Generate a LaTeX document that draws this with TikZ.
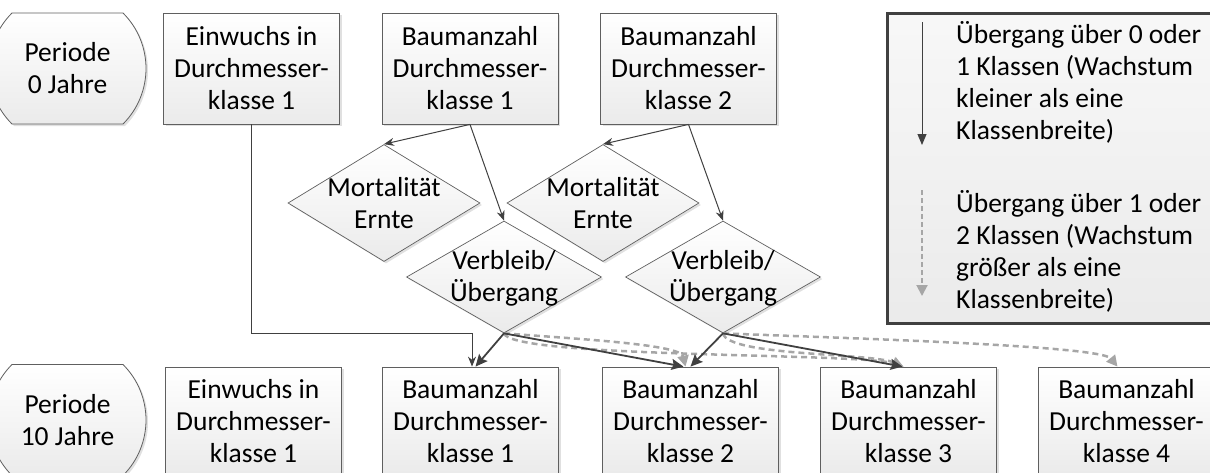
\documentclass[tikz,border=0pt]{standalone}
\usepackage{fontspec}
\setmainfont{Carlito}
\usetikzlibrary{shapes.geometric,shapes.misc,arrows.meta,shadows,calc}
\definecolor{lineC}{HTML}{404040}
\definecolor{boxC}{HTML}{5F5F5F}
\definecolor{dashC}{HTML}{A6A6A6}
\begin{document}
\begin{tikzpicture}[x=1pt,y=-1pt,font=\fontsize{27.5}{32}\selectfont,
  shadowed/.style={drop shadow={shadow xshift=2pt,shadow yshift=-2pt,fill=black,opacity=0.12}},
  box/.style={rectangle,draw=boxC,line width=0.8pt,top color=white,bottom color=gray!16,
    minimum width=176pt,minimum height=111pt,align=center,inner sep=0pt,shadowed},
  lowbox/.style={box,minimum height=108pt},
  per/.style={rounded rectangle,rounded rectangle arc length=90,draw=boxC,line width=0.8pt,
    top color=white,bottom color=gray!16,minimum width=109pt,minimum height=111pt,
    align=center,inner sep=0pt,shadowed},
  dia/.style={diamond,draw=boxC,line width=0.7pt,top color=white,bottom color=gray!16,
    inner sep=0pt,shadowed},
  dtext/.style={align=center,inner sep=0pt},
  thinarrow/.style={draw=lineC,line width=1pt,-{Stealth[length=10pt,width=8pt]}},
  thickarrow/.style={draw=lineC,line width=1.8pt,-{Stealth[length=12pt,width=11pt,inset=2pt]}},
  dasharrow/.style={draw=dashC,line width=2.5pt,dash pattern=on 6pt off 4pt,
    -{Triangle[length=11pt,width=11pt]}},
  legendbox/.style={rectangle,draw=lineC,line width=3pt,top color=gray!6,bottom color=gray!16,
    minimum width=332pt,minimum height=310pt,inner sep=0pt},
  legtext/.style={anchor=west,align=left,inner sep=0pt}
]
\useasboundingbox (0,0) rectangle (1210,472);

% legend
\node[legendbox,anchor=north west] (leg) at (886,12) {};
\coordinate (la1) at (922,22);
\coordinate (la2) at (922,145);
\coordinate (lb1) at (922,190);
\coordinate (lb2) at (922,296);
\draw[thinarrow,-{Triangle[length=11pt,width=9pt]}] (la1) -- (la2);
\draw[dasharrow,line width=2pt,dash pattern=on 5pt off 3pt] (lb1) -- (lb2);
\node[legtext] (lt1) at (956,82) {Übergang über 0 oder\\1 Klassen (Wachstum\\kleiner als eine\\Klassenbreite)};
\node[legtext] (lt2) at (956,251) {Übergang über 1 oder\\2 Klassen (Wachstum\\größer als eine\\Klassenbreite)};

% top row
\node[per] (p0) at (67.5,68.5) {Periode\\0 Jahre};
\node[box] (e0) at (251.5,68.5) {Einwuchs in\\Durchmesser-\\klasse 1};
\node[box] (b1) at (470,68.5) {Baumanzahl\\Durchmesser-\\klasse 1};
\node[box] (b2) at (688.5,68.5) {Baumanzahl\\Durchmesser-\\klasse 2};

% diamonds
\node[dia,minimum width=192pt,minimum height=117pt] (m1) at (384,203) {};
\node[dtext] at (m1) {Mortalität\\Ernte};
\node[dia,minimum width=192pt,minimum height=117pt] (m2) at (603,203) {};
\node[dtext] at (m2) {Mortalität\\Ernte};
\node[dia,minimum width=195pt,minimum height=112pt] (v1) at (504,277) {};
\node[dtext] at ($(v1)+(0,1)$) {Verbleib/\\Übergang};
\node[dia,minimum width=195pt,minimum height=112pt] (v2) at (723,277) {};
\node[dtext] at ($(v2)+(0,1)$) {Verbleib/\\Übergang};

% bottom row
\node[per] (p1) at (67.5,420) {Periode\\10 Jahre};
\node[lowbox] (e1) at (253.5,421) {Einwuchs in\\Durchmesser-\\klasse 1};
\node[lowbox] (c1) at (470.5,421) {Baumanzahl\\Durchmesser-\\klasse 1};
\node[lowbox] (c2) at (690.5,421) {Baumanzahl\\Durchmesser-\\klasse 2};
\node[lowbox] (c3) at (908.5,421) {Baumanzahl\\Durchmesser-\\klasse 3};
\node[lowbox] (c4) at (1126.5,421) {Baumanzahl\\Durchmesser-\\klasse 4};

% top connectors
\draw[thinarrow] (b1.south) -- (m1.north);
\draw[thinarrow] (b1.south) -- (v1.north);
\draw[thinarrow] (b2.south) -- (m2.north);
\draw[thinarrow] (b2.south) -- (v2.north);
\coordinate (k) at (472,333);
\draw[thinarrow] (e0.south) |- (k) -- (k |- c1.north);

% dashed transitions
\draw[dasharrow] (v1.south) .. controls +(80,6) and +(-5,-22) .. ($(c2.north)+(-5,0)$);
\draw[dasharrow] (v1.south) .. controls +(7,25) and +(-43,-14) .. ($(c3.north)+(-5,0)$);
\draw[dasharrow] (v2.south) .. controls +(5,23) and +(-33,-14) .. ($(c3.north)+(-5,0)$);
\draw[dasharrow] (v2.south) .. controls +(127,5) and +(-17,-21) .. ($(c4.north)+(-9,0)$);

% solid transitions
\draw[thickarrow] (v1.south) -- ($(c1.north)+(5,0)$);
\draw[thickarrow] (v1.south) -- ($(c2.north)+(-7,0)$);
\draw[thickarrow] (v2.south) -- (c2.north);
\draw[thickarrow] (v2.south) -- ($(c3.north)+(-6,0)$);
\end{tikzpicture}
\end{document}
